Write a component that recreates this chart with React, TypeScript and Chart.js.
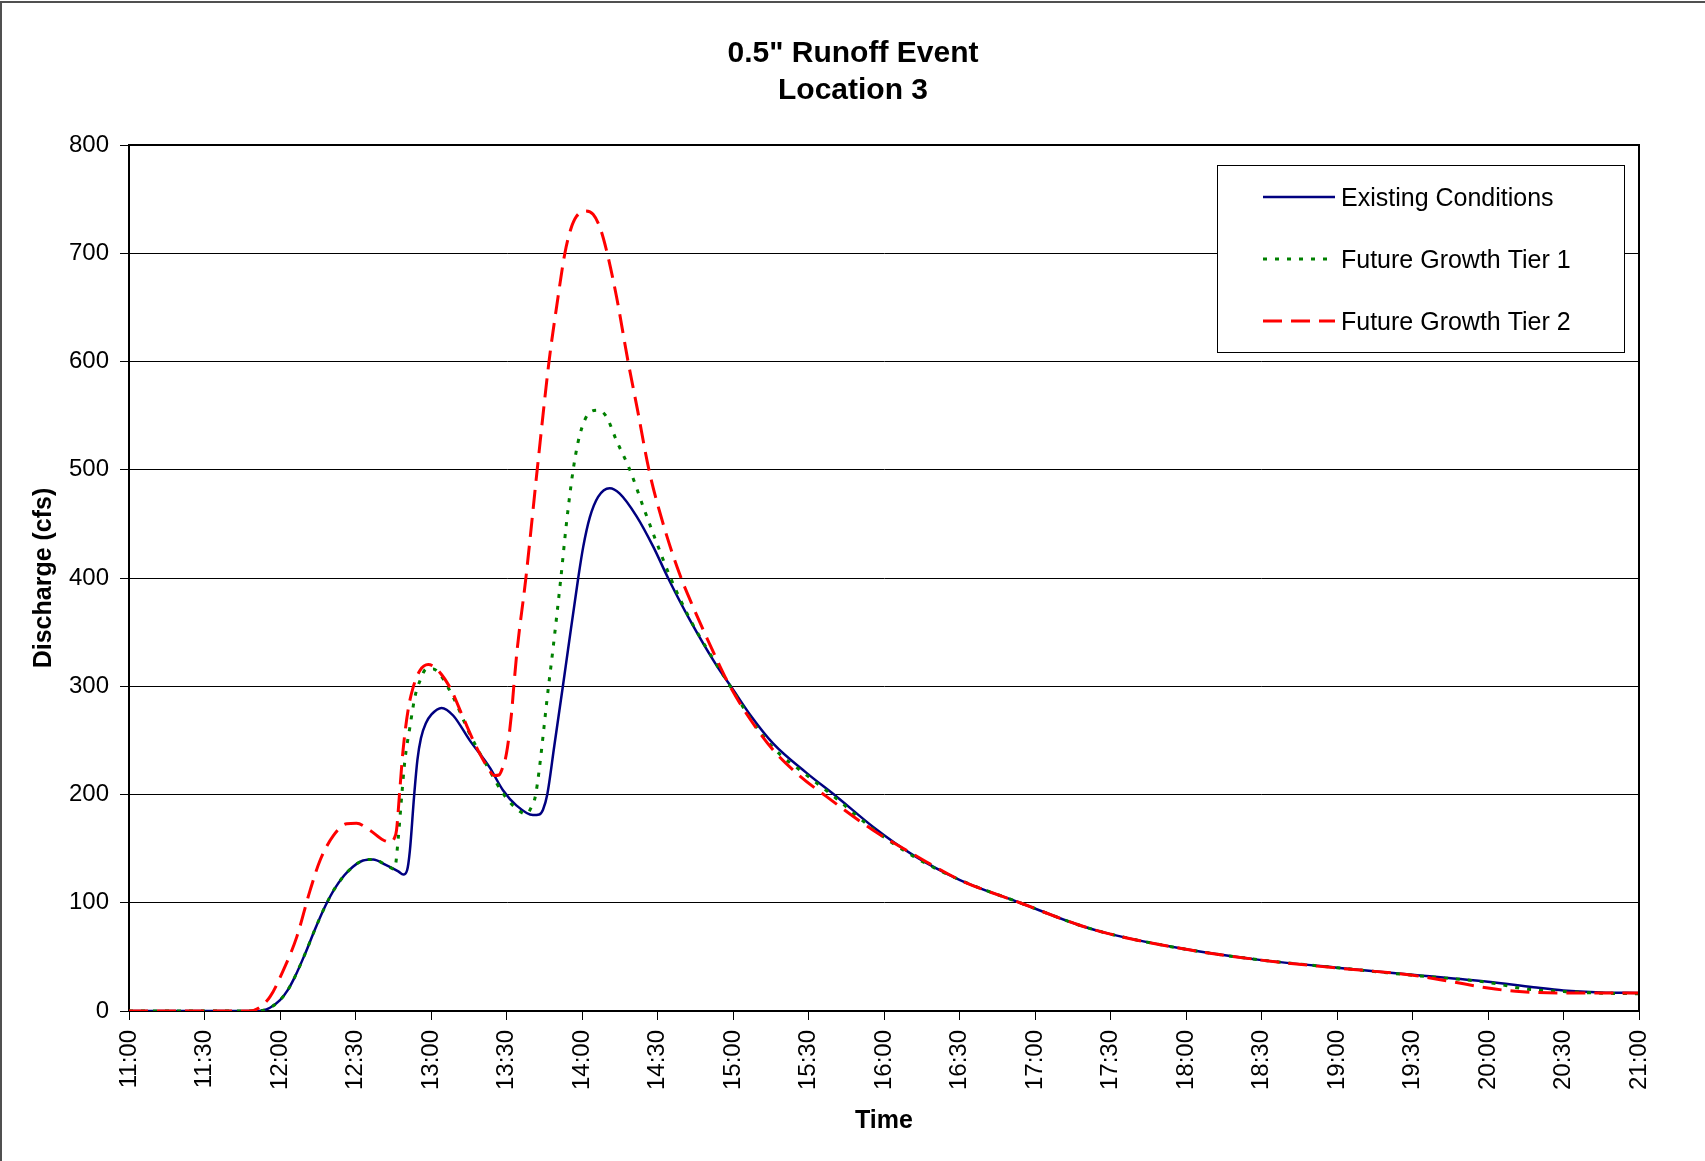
import React, { useEffect, useRef } from 'react';
import { Chart, registerables } from 'chart.js';

Chart.register(...registerables);

const FONT = "'Liberation Sans', Arial, Helvetica, sans-serif";

const titleLines = ['0.5" Runoff Event', 'Location 3'];
const xAxisTitle = 'Time';
const yAxisTitle = 'Discharge (cfs)';
const seriesNames = ['Existing Conditions', 'Future Growth Tier 1', 'Future Growth Tier 2'];

// time in minutes after 11:00
const xMin = 0;
const xMax = 600;
const xStep = 30;
const yMin = 0;
const yMax = 800;
const yStep = 100;

const existingTimes = [0, 50, 53, 56, 60, 63, 66, 70, 74, 78, 82, 87, 93, 97, 102, 107, 109, 110.5, 111.6, 113.3, 114.6, 116, 118, 120.2, 124.2, 128.8, 135.4, 143.3, 148.6, 153.9, 160.5, 163, 164.5, 166.2, 169, 172.4, 174.4, 178.5, 180.5, 183.1, 186.4, 191, 195, 201.7, 208.3, 214.2, 222.9, 233.5, 240, 246.7, 256, 269.2, 281.2, 295.7, 311.6, 330.2, 354, 378, 390, 420, 450, 480, 510, 540, 558, 570, 585, 600];
const existingFlow = [0, 0, 0.5, 3, 10, 19, 32, 53, 76, 97, 114, 129, 139, 140, 135, 129, 126, 130, 148, 199, 232, 252, 266, 274, 280, 273, 250, 225, 204, 190, 181, 181.5, 186, 200, 245, 300, 333, 400, 429, 456, 475, 483, 478, 457, 429, 400, 361, 319, 297, 274, 247, 220, 198, 170, 144, 121, 100, 79, 71, 57, 47, 40, 33.5, 27, 22, 19, 17.2, 16.6];

const tier1Times = [0, 50, 53, 56, 60, 63, 66, 70, 74, 78, 82, 87, 93, 97, 102, 105.5, 107, 108.3, 109.6, 111.6, 113.6, 115.6, 118.2, 120.8, 123.5, 128.8, 135.4, 143.3, 148.6, 153.9, 157.9, 160, 161.6, 166.7, 168.5, 171.6, 173.8, 176.5, 179.1, 183.1, 186.4, 189.7, 193.7, 199, 204.3, 209.6, 215.2, 222.9, 233.5, 240, 246.7, 256, 269.2, 281.2, 295.7, 311.6, 330.2, 354, 378, 390, 420, 450, 480, 510, 540, 555, 570, 585, 600];
const tier1Flow = [0, 0, 0.5, 3, 10, 19, 32, 53, 76, 97, 114, 129, 139, 140, 135, 131, 160, 197, 231, 262, 290, 305, 316, 316, 311, 290, 256, 222, 201, 187, 182, 189, 200, 300, 335, 400, 450, 500, 532, 553, 555, 549, 527, 500, 466, 433, 400, 362, 320, 296, 271, 243, 218, 196, 168, 143, 121, 100, 79, 71, 57, 47, 40, 33, 26.4, 20.3, 18, 16.5, 16];

const tier2Times = [0, 48, 51, 56, 61.3, 66.6, 71.9, 75.9, 81.2, 86.5, 90.4, 95.7, 101, 104, 105.5, 106.3, 107.6, 108.9, 110.9, 112.9, 115.6, 118.9, 122.2, 127.5, 132.8, 138, 142, 145.3, 147, 148, 150, 152, 152.9, 154.2, 157.7, 162.2, 166.9, 170, 173.2, 175.5, 177.8, 181.1, 184.4, 187.1, 189.7, 193.7, 198.3, 202, 206.6, 212.5, 218.9, 224.2, 233.5, 238.8, 246.7, 256, 266.6, 277.2, 295.7, 313, 330.2, 354, 378, 390, 420, 450, 480, 510, 525, 540, 551, 570, 600];
const tier2Flow = [0, 0, 2, 13, 37.5, 68, 111, 139, 162, 173, 173.5, 167, 158, 156, 160, 167, 204, 241, 278, 299, 314.5, 320, 316, 299, 271, 244, 227, 217.5, 218, 222, 238, 275, 300, 333, 400, 500, 600, 652, 700, 722, 734, 739, 736, 724, 703, 660, 600, 556, 500, 448, 403, 373, 325, 300, 270, 241, 217, 198, 167, 143, 121, 100, 79, 71, 57, 47, 39.7, 33, 27.3, 21.2, 18.2, 16.6, 16.6];

const fmtTime = (v: number) => {
  const total = 11 * 60 + v;
  const h = Math.floor(total / 60);
  const m = Math.round(total % 60);
  return `${h}:${m < 10 ? '0' + m : m}`;
};

const pts = (ts: number[], vs: number[]) => ts.map((t, i) => ({ x: t, y: vs[i] }));

export default function App() {
  const ref = useRef<HTMLCanvasElement>(null);

  useEffect(() => {
    document.body.style.margin = '0';
    const canvas = ref.current;
    if (!canvas) return;

    const decor = {
      id: 'decor',
      beforeDraw(chart: any) {
        const ctx = chart.ctx;
        ctx.save();
        ctx.fillStyle = '#fff';
        ctx.fillRect(0, 0, chart.width, chart.height);
        ctx.strokeStyle = '#505050';
        ctx.lineWidth = 2;
        ctx.strokeRect(1, 2, chart.width + 20, chart.height + 20);
        ctx.restore();
      },
      afterDraw(chart: any) {
        const ctx = chart.ctx;
        const a = chart.chartArea;
        ctx.save();
        // plot frame top & right
        ctx.strokeStyle = '#000';
        ctx.lineWidth = 2;
        ctx.beginPath();
        ctx.moveTo(a.left, a.top);
        ctx.lineTo(a.right, a.top);
        ctx.lineTo(a.right, a.bottom);
        ctx.stroke();

        // titles
        ctx.fillStyle = '#000';
        ctx.textAlign = 'center';
        ctx.textBaseline = 'alphabetic';
        ctx.font = `bold 30px ${FONT}`;
        ctx.fillText(titleLines[0], 853, 62);
        ctx.fillText(titleLines[1], 853, 99);

        ctx.font = `bold 25px ${FONT}`;
        ctx.fillText(xAxisTitle, 884, 1128);

        ctx.save();
        ctx.translate(51, 578);
        ctx.rotate(-Math.PI / 2);
        ctx.fillText(yAxisTitle, 0, 0);
        ctx.restore();

        // legend
        const lx = 1217, ly = 165, lw = 407, lh = 187;
        ctx.fillStyle = '#fff';
        ctx.fillRect(lx, ly, lw, lh);
        ctx.strokeStyle = '#000';
        ctx.lineWidth = 1;
        ctx.strokeRect(lx + 0.5, ly + 0.5, lw, lh);
        const rows = [197, 259, 321];
        chart.data.datasets.forEach((ds: any, i: number) => {
          const y = rows[i];
          ctx.save();
          ctx.strokeStyle = ds.borderColor;
          ctx.lineWidth = ds.borderWidth;
          ctx.setLineDash(ds.borderDash || []);
          ctx.beginPath();
          ctx.moveTo(1263, y);
          ctx.lineTo(1335, y);
          ctx.stroke();
          ctx.restore();
          ctx.fillStyle = '#000';
          ctx.textAlign = 'left';
          ctx.textBaseline = 'alphabetic';
          ctx.font = `25px ${FONT}`;
          ctx.fillText(ds.label, 1341, y + 8.5);
        });
        ctx.restore();
      },
    };

    const chart = new Chart(canvas, {
      type: 'line',
      data: {
        datasets: [
          {
            label: seriesNames[0],
            data: pts(existingTimes, existingFlow),
            borderColor: '#000080',
            borderWidth: 2.5,
            borderDash: [],
            pointRadius: 0,
            cubicInterpolationMode: 'monotone',
            order: 3,
          },
          {
            label: seriesNames[1],
            data: pts(tier1Times, tier1Flow),
            borderColor: '#008000',
            borderWidth: 3,
            borderDash: [4, 8],
            pointRadius: 0,
            cubicInterpolationMode: 'monotone',
            order: 2,
          },
          {
            label: seriesNames[2],
            data: pts(tier2Times, tier2Flow),
            borderColor: '#FF0000',
            borderWidth: 3,
            borderDash: [19, 9],
            pointRadius: 0,
            cubicInterpolationMode: 'monotone',
            order: 1,
          },
        ],
      },
      options: {
        responsive: false,
        animation: false,
        devicePixelRatio: 1,
        parsing: false as any,
        layout: { padding: { top: 145, right: 66, left: 0, bottom: 0 } },
        plugins: {
          legend: { display: false },
          title: { display: false },
          tooltip: { enabled: false },
        },
        scales: {
          x: {
            type: 'linear',
            min: xMin,
            max: xMax,
            afterFit: (s: any) => { s.height = 150; },
            ticks: {
              stepSize: xStep,
              autoSkip: false,
              minRotation: 90,
              maxRotation: 90,
              padding: 10,
              color: '#000',
              font: { family: FONT, size: 24 },
              callback: (v: any) => fmtTime(Number(v)),
            },
            grid: {
              drawOnChartArea: false,
              drawTicks: true,
              tickLength: 9,
              tickColor: '#000',
              tickWidth: 1,
            },
            border: { display: true, color: '#000', width: 2 },
          },
          y: {
            type: 'linear',
            min: yMin,
            max: yMax,
            afterFit: (s: any) => { s.width = 129; },
            ticks: {
              stepSize: yStep,
              padding: 11,
              color: '#000',
              font: { family: FONT, size: 24 },
            },
            grid: {
              color: '#000',
              lineWidth: 1,
              drawTicks: true,
              tickLength: 9,
              tickColor: '#000',
              tickWidth: 1,
            },
            border: { display: true, color: '#000', width: 2 },
          },
        },
      },
      plugins: [decor],
    } as any);

    return () => chart.destroy();
  }, []);

  return (
    <canvas
      ref={ref}
      width={1705}
      height={1161}
      style={{ display: 'block', width: '1705px', height: '1161px' }}
    />
  );
}
